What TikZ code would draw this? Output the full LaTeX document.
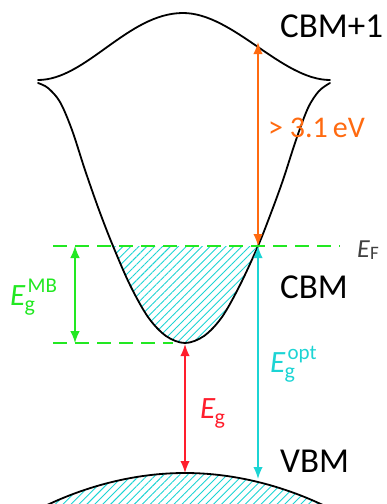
\documentclass[tikz,border=0pt]{standalone}
\usepackage{fontspec}
\setmainfont{Carlito}
\usetikzlibrary{arrows.meta,patterns.meta}
\definecolor{orng}{HTML}{FF6A10}
\definecolor{grn}{HTML}{22E822}
\definecolor{cyn}{HTML}{1CD4D4}
\definecolor{rd}{HTML}{FF1E2D}
\definecolor{efgray}{HTML}{404040}
\newcommand{\EgSubSup}[1]{\textit{E}\kern-1pt\rlap{\raisebox{-6pt}{\fontsize{22}{22}\selectfont g}}\kern3pt\raisebox{13pt}{\fontsize{21}{21}\selectfont #1}}
\newcommand{\EgSub}{\textit{E}\kern-1pt\raisebox{-6pt}{\fontsize{22}{22}\selectfont g}}
\tikzset{
  band/.style={line width=1.8pt, black, line cap=round},
  hatch/.style={pattern={Lines[angle=45,distance=5.6pt,line width=0.9pt]}, pattern color=cyn},
  efline/.style={grn, line width=1.4pt, dash pattern=on 14pt off 8pt},
  dbl/.style={line width=1.6pt, {Latex[length=12pt,width=9.5pt]}-{Latex[length=12pt,width=9.5pt]}},
  lbl/.style={inner sep=0pt, anchor=base west},
  big/.style={lbl, font=\fontsize{35}{35}\selectfont},
  mid/.style={lbl, font=\fontsize{31}{31}\selectfont}
}
\begin{document}
\begin{tikzpicture}[x=1pt,y=-1pt]
\useasboundingbox (0,0) rectangle (387,504);
\clip (0,0) rectangle (387,504);
% hatching in conduction band below E_F
\begin{scope}
  \clip plot[smooth, tension=0.55] coordinates {(99,210) (113,246) (130,285) (148,317) (166,336) (185,343) (204,336) (222,317) (240,285) (258,246) (271,213)} -- cycle;
  \fill[hatch] (90,246) rectangle (280,350);
\end{scope}
% hatching in valence band
\fill[hatch] (45,506) parabola bend (185,473) (325,506) -- cycle;
% bands
\draw[band] (38,80) .. controls (86,80) and (128,13) .. (183,13) .. controls (233,13) and (282,80) .. (330,80);
\draw[band] plot[smooth, tension=0.55] coordinates {(38,83) (48,88) (60,102) (72,130) (85,170) (99,210) (113,246) (130,285) (148,317) (166,336) (185,343) (204,336) (222,317) (240,285) (258,246) (271,213) (283,180) (296,140) (308,108) (319,91) (330,83)};
\draw[band] (45,506) parabola bend (185,473) (325,506);
% coordinates
\coordinate (efL) at (53,246);
\coordinate (efEnd) at (340,246);
\coordinate (mbL) at (53,343);
\coordinate (mbR) at (173,343);
\coordinate (efR) at (258,246);
\coordinate (cbp) at (258,42);
\coordinate (vbR) at (258,479);
\coordinate (cbm) at (185,344);
\coordinate (vbm) at (185,473);
\coordinate (gT) at (75,246);
\coordinate (gB) at (75,343);
% dashed lines
\draw[efline] (efL) -- (efEnd);
\draw[efline] (mbL) -- (mbR);
% arrows
\draw[dbl, orng] (efR) -- (cbp);
\draw[dbl, cyn] (efR) -- (vbR);
\draw[dbl, rd] (cbm) -- (vbm);
\draw[dbl, grn, line width=1.3pt] (gT) -- (gB);
% labels
\node[big] (cbm1) at (280,37) {CBM+1};
\node[lbl, orng, font=\fontsize{30}{30}\selectfont] (ev) at (268,137) {> 3.1\,eV};
\node[lbl, efgray, font=\fontsize{26}{26}\selectfont] (ef) at (357,257) {\textit{E}\raisebox{-2pt}{\fontsize{19}{19}\selectfont F}};
\node[big] (cbmlab) at (280,298) {CBM};
\node[mid, grn] (egmb) at (10,305) {\EgSubSup{MB}};
\node[mid, cyn] (egopt) at (270,372) {\EgSubSup{opt}};
\node[mid, rd] (eg) at (200,418) {\EgSub};
\node[big] (vbmlab) at (280,472) {VBM};
\end{tikzpicture}
\end{document}
